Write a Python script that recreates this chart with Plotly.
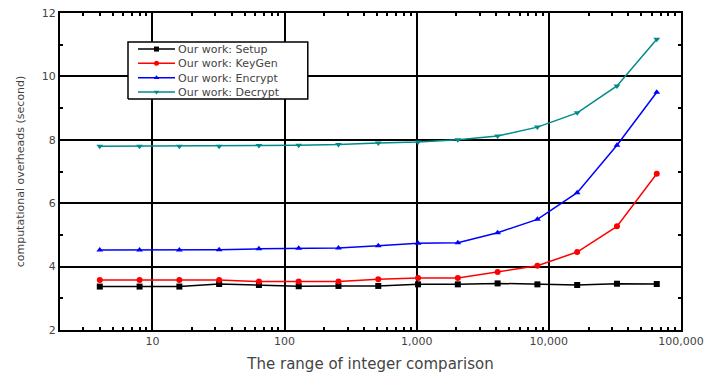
import plotly.graph_objects as go

x_vals = [4, 8, 16, 32, 64, 128, 256, 512, 1024, 2048, 4096, 8192, 16384, 32768, 65536]
setup = [3.37, 3.37, 3.37, 3.45, 3.42, 3.38, 3.39, 3.39, 3.44, 3.44, 3.47, 3.44, 3.42, 3.46, 3.45]
keygen = [3.58, 3.58, 3.58, 3.58, 3.53, 3.53, 3.53, 3.60, 3.64, 3.64, 3.83, 4.03, 4.46, 5.27, 6.93]
encrypt = [4.52, 4.52, 4.52, 4.53, 4.56, 4.58, 4.59, 4.66, 4.74, 4.75, 5.07, 5.49, 6.33, 7.83, 9.50]
decrypt = [7.80, 7.80, 7.80, 7.80, 7.82, 7.83, 7.85, 7.90, 7.93, 8.00, 8.12, 8.40, 8.85, 9.70, 11.17]

series_names = ["Our work: Setup", "Our work: KeyGen", "Our work: Encrypt", "Our work: Decrypt"]
series_values = [setup, keygen, encrypt, decrypt]
series_colors = ["black", "red", "blue", "#008b8b"]
series_symbols = ["square", "circle", "triangle-up", "triangle-down"]

x_tickvals = [10, 100, 1000, 10000, 100000]
x_ticktext = ["10", "100", "1,000", "10,000", "100,000"]
x_minor_ticks = [m * d for d in (1, 10, 100, 1000, 10000) for m in range(2, 10)]

FONT = "DejaVu Sans"
TXT = "#444444"
PLOT_H = 373 - 13 - 43
fig = go.Figure()
for name, ys, col, sym in zip(series_names, series_values, series_colors, series_symbols):
    fig.add_trace(go.Scatter(
        x=x_vals, y=ys, name=name, mode="lines+markers", showlegend=False,
        line=dict(color=col, width=1.5),
        marker=dict(color=col, symbol=sym, size=6),
    ))

# Custom compact legend, drawn on an invisible overlay axis that spans the plot area
LEG_FONT = 11
LEG_X = (0.1095, 0.399)
LEG_Y = (0.7287, 0.9085)
LEG_LINE = (0.1256, 0.1852)
LEG_TEXT_X = 0.188
LEG_STEP = LEG_FONT * 1.3 / PLOT_H
LEG_MID = (LEG_Y[0] + LEG_Y[1]) / 2
LEG_TOP = LEG_MID + 1.5 * LEG_STEP
fig.add_trace(go.Scatter(
    x=[LEG_X[0], LEG_X[1], LEG_X[1], LEG_X[0], LEG_X[0]],
    y=[LEG_Y[0], LEG_Y[0], LEG_Y[1], LEG_Y[1], LEG_Y[0]],
    xaxis="x2", yaxis="y2", mode="lines", fill="toself", fillcolor="white",
    line=dict(color="black", width=1.5), showlegend=False, hoverinfo="skip",
))
for i, (name, col, sym) in enumerate(zip(series_names, series_colors, series_symbols)):
    yy = LEG_TOP - i * LEG_STEP
    fig.add_trace(go.Scatter(
        x=[LEG_LINE[0], LEG_LINE[1]], y=[yy, yy],
        xaxis="x2", yaxis="y2", mode="lines", showlegend=False, hoverinfo="skip",
        line=dict(color=col, width=1.5),
    ))
    fig.add_trace(go.Scatter(
        x=[sum(LEG_LINE) / 2], y=[yy],
        xaxis="x2", yaxis="y2", mode="markers", showlegend=False, hoverinfo="skip",
        marker=dict(color=col, symbol=sym, size=5),
    ))
fig.add_annotation(x=LEG_TEXT_X, y=LEG_MID, xref="paper", yref="paper",
                   text="<br>".join(series_names), align="left",
                   showarrow=False, xanchor="left", yanchor="middle", borderpad=0,
                   font=dict(family=FONT, size=LEG_FONT, color=TXT))

fig.update_layout(
    width=710, height=373,
    margin=dict(l=60, r=29, t=13, b=43),
    paper_bgcolor="white", plot_bgcolor="white",
    font=dict(family=FONT, color=TXT, size=11),
    showlegend=False,
    xaxis2=dict(overlaying="x", type="linear", range=[0, 1], visible=False, domain=[0, 1]),
    yaxis2=dict(overlaying="y", type="linear", range=[0, 1], visible=False, domain=[0, 1]),
)

fig.update_layout(xaxis=dict(
    type="log", range=[0.301, 5.0], automargin=False,
    tickvals=x_tickvals, ticktext=x_ticktext,
    showgrid=True, gridcolor="black", gridwidth=1.8,
    showline=True, linecolor="black", linewidth=2.2, mirror="allticks",
    ticks="inside", ticklen=0, tickcolor="black",
    minor=dict(tickvals=x_minor_ticks, ticks="inside", ticklen=3, tickcolor="black",
               tickwidth=1.5, showgrid=False),
    tickfont=dict(size=11, color=TXT),
    title=dict(text="The range of integer comparison", font=dict(size=15, color=TXT)),
    zeroline=False,
))
fig.update_layout(yaxis=dict(
    range=[2, 12], dtick=2, tick0=0, automargin=False,
    showgrid=True, gridcolor="black", gridwidth=1.8,
    showline=True, linecolor="black", linewidth=2.2, mirror="allticks",
    ticks="inside", ticklen=4, tickcolor="black", tickwidth=1.5,
    minor=dict(ticks="inside", ticklen=3, dtick=1, tickcolor="black", tickwidth=1.5, showgrid=False),
    tickfont=dict(size=11, color=TXT),
    title=dict(text="computational overheads (second)", font=dict(size=11, color=TXT)),
    zeroline=False,
))

fig.write_html("out.html", config={"displayModeBar": False},
               post_script="document.body.style.margin='0';")
